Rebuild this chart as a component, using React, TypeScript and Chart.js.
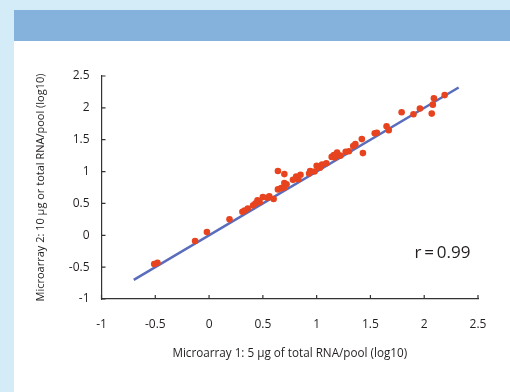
import React, { useEffect, useRef } from "react";
import { Chart, registerables } from "chart.js";

Chart.register(...registerables);

const xValues = [
  -0.51, -0.48, -0.13, -0.02, 0.19, 0.31, 0.33, 0.36, 0.41, 0.43, 0.45, 0.47,
  0.5, 0.56, 0.6, 0.54, 0.64, 0.7, 0.64, 0.67, 0.7, 0.7, 0.72, 0.78, 0.81, 0.85,
  0.83, 0.94, 0.93, 0.98, 1.0, 1.05, 1.09, 1.03, 1.14, 1.17, 1.19, 1.16, 1.22,
  1.27, 1.3, 1.36, 1.34, 1.42, 1.43, 1.54, 1.56, 1.65, 1.67, 1.79, 1.9, 1.96,
  2.07, 2.08, 2.09, 2.19,
];
const yValues = [
  -0.45, -0.43, -0.09, 0.05, 0.25, 0.37, 0.39, 0.42, 0.47, 0.5, 0.55, 0.52,
  0.6, 0.61, 0.57, 0.59, 1.01, 0.96, 0.72, 0.74, 0.82, 0.75, 0.8, 0.87, 0.92,
  0.95, 0.88, 1.01, 0.97, 1.0, 1.09, 1.11, 1.13, 1.06, 1.23, 1.22, 1.3, 1.26,
  1.25, 1.31, 1.32, 1.43, 1.4, 1.51, 1.29, 1.6, 1.61, 1.71, 1.65, 1.93, 1.9,
  1.99, 1.91, 2.05, 2.15, 2.2,
];
const fitLineX = [-0.7, 2.32];
const fitLineY = [-0.7, 2.32];
const xTickValues = [-1, -0.5, 0, 0.5, 1, 1.5, 2, 2.5];
const xTickLabels = ["-1", "-0.5", "0", "0.5", "1", "1.5", "2", "2.5"];
const yTickValues = [-1, -0.5, 0, 0.5, 1, 1.5, 2, 2.5];
const yTickLabels = ["-1", "-0.5", "0", "0.5", "1", "1.5", "2", "2.5"];
const xTitle = "Microarray 1: 5 µg of total RNA/pool (log10)";
const yTitle = "Microarray 2: 10 µg or total RNA/pool (log10)";
const corrText = "r\u2009=\u20090.99";
const corrPos = { x: 2.17, y: -0.28 };

const FONT = "'Open Sans', 'Noto Sans', sans-serif";
const TEXT = "#231f20";

export default function App() {
  const ref = useRef<HTMLCanvasElement | null>(null);

  useEffect(() => {
    if (!ref.current) return;
    const scatter = xValues.map((x, i) => ({ x, y: yValues[i] }));
    const line = fitLineX.map((x, i) => ({ x, y: fitLineY[i] }));

    const extras = {
      id: "extras",
      afterDatasetsDraw(chart: any) {
        const { ctx, chartArea, scales } = chart;
        const xs = scales.x;
        const ys = scales.y;
        ctx.save();
        ctx.strokeStyle = "#333";
        ctx.lineWidth = 1.2;
        ctx.beginPath();
        xTickValues.forEach((v) => {
          const px = xs.getPixelForValue(v);
          ctx.moveTo(px, chartArea.bottom);
          ctx.lineTo(px, chartArea.bottom - 4);
        });
        yTickValues.forEach((v) => {
          const py = ys.getPixelForValue(v);
          ctx.moveTo(chartArea.left, py);
          ctx.lineTo(chartArea.left + 4, py);
        });
        ctx.stroke();
        ctx.fillStyle = TEXT;
        ctx.font = "17px " + FONT;
        ctx.textAlign = "center";
        ctx.textBaseline = "middle";
        ctx.fillText(
          corrText,
          xs.getPixelForValue(corrPos.x),
          ys.getPixelForValue(corrPos.y)
        );
        ctx.restore();
      },
    };

    const chart = new Chart(ref.current, {
      type: "scatter",
      data: {
        datasets: [
          {
            type: "scatter",
            data: scatter,
            backgroundColor: "#e8431f",
            borderWidth: 0,
            pointRadius: 3.3,
            order: 0,
          },
          {
            type: "line",
            data: line,
            borderColor: "#5a6dbd",
            borderWidth: 2.5,
            pointRadius: 0,
            order: 1,
          } as any,
        ],
      },
      options: {
        animation: false,
        responsive: false,
        maintainAspectRatio: false,
        layout: { padding: { left: 31.5, right: 32, top: 76, bottom: 30 } },
        plugins: {
          legend: { display: false },
          tooltip: { enabled: false },
        },
        scales: {
          x: {
            type: "linear",
            min: -1,
            max: 2.5,
            afterFit: (s: any) => {
              s.height = 63;
            },
            afterBuildTicks: (s: any) => {
              s.ticks = xTickValues.map((v) => ({ value: v }));
            },
            ticks: {
              font: { family: FONT, size: 12 },
              color: TEXT,
              padding: 18,
              callback: (v: any) => xTickLabels[xTickValues.indexOf(Number(v))] ?? "",
            },
            grid: { display: false, drawTicks: false },
            border: { display: true, color: "#333", width: 1.2 },
            title: {
              display: true,
              text: xTitle,
              font: { family: FONT, size: 11.7 },
              color: TEXT,
              padding: { top: 0, bottom: 1.5 },
            },
          },
          y: {
            type: "linear",
            min: -1,
            max: 2.5,
            afterFit: (s: any) => {
              s.width = 70;
            },
            afterBuildTicks: (s: any) => {
              s.ticks = yTickValues.map((v) => ({ value: v }));
            },
            ticks: {
              font: { family: FONT, size: 12 },
              color: TEXT,
              padding: 12,
              callback: (v: any) => yTickLabels[yTickValues.indexOf(Number(v))] ?? "",
            },
            grid: { display: false, drawTicks: false },
            border: { display: true, color: "#333", width: 1.2 },
            title: {
              display: true,
              text: yTitle,
              font: { family: FONT, size: 11 },
              color: TEXT,
              padding: { top: 3, bottom: 0 },
            },
          },
        },
      },
      plugins: [extras],
    });
    return () => chart.destroy();
  }, []);

  return (
    <div
      style={{
        position: "fixed",
        left: 0,
        top: 0,
        width: 510,
        height: 392,
        background: "#d4ebf8",
        overflow: "hidden",
      }}
    >
      <div
        style={{
          position: "absolute",
          left: 14,
          top: 10,
          width: 496,
          height: 31,
          background: "#85b2dc",
        }}
      />
      <div
        style={{
          position: "absolute",
          left: 14,
          top: 41,
          width: 496,
          height: 351,
          background: "#ffffff",
        }}
      />
      <canvas
        ref={ref}
        width={510}
        height={392}
        style={{ position: "absolute", left: 0, top: 0, width: 510, height: 392 }}
      />
    </div>
  );
}
